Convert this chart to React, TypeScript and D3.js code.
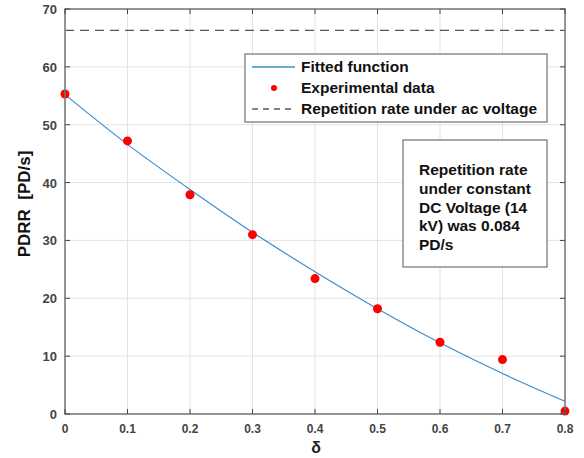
import React from "react";
import * as d3 from "d3";

const deltaValues = [0, 0.1, 0.2, 0.3, 0.4, 0.5, 0.6, 0.7, 0.8];
const experimentalPDRR = [55.3, 47.2, 37.9, 31.0, 23.4, 18.2, 12.4, 9.4, 0.5];
const fittedPDRR = [55.2, 46.6, 38.8, 31.4, 24.6, 18.2, 12.3, 7.0, 2.2];
const acRepetitionRate = 66.3;
const xTicks = [0, 0.1, 0.2, 0.3, 0.4, 0.5, 0.6, 0.7, 0.8];
const yTicks = [0, 10, 20, 30, 40, 50, 60, 70];
const legendLabels = ["Fitted function", "Experimental data", "Repetition rate under ac voltage"];
const noteLines = ["Repetition rate", "under constant", "DC Voltage (14", "kV) was 0.084", "PD/s"];

export default function App() {
  const W = 584, H = 458;
  const x = d3.scaleLinear().domain([0, 0.8]).range([65, 565]);
  const y = d3.scaleLinear().domain([0, 70]).range([414, 9]);
  const line = d3
    .line<number>()
    .x((_, i) => x(deltaValues[i]))
    .y((d) => y(d))
    .curve(d3.curveMonotoneX);
  const font = "Arial, 'Liberation Sans', sans-serif";
  const tickColor = "#444";
  const [x0, x1] = x.range();
  const [y0, y1] = y.range();
  return (
    <svg width={W} height={H} style={{ position: "absolute", left: 0, top: 0, background: "#fff" }}>
      <rect x={0} y={0} width={W} height={H} fill="#fff" />
      {/* grid */}
      {xTicks.map((t) => (
        <line key={"gx" + t} x1={x(t)} x2={x(t)} y1={y1} y2={y0} stroke="#e3e3e3" strokeWidth={1} />
      ))}
      {yTicks.map((t) => (
        <line key={"gy" + t} x1={x0} x2={x1} y1={y(t)} y2={y(t)} stroke="#e3e3e3" strokeWidth={1} />
      ))}
      {/* ac line */}
      <line x1={x0} x2={x1} y1={y(acRepetitionRate)} y2={y(acRepetitionRate)} stroke="#555" strokeWidth={1.3} strokeDasharray="9,6" />
      {/* fitted */}
      <path d={line(fittedPDRR) || ""} fill="none" stroke="#3a8fd0" strokeWidth={1.2} />
      {/* points */}
      {experimentalPDRR.map((v, i) => (
        <circle key={"p" + i} cx={x(deltaValues[i])} cy={y(v)} r={4.5} fill="#ff0000" />
      ))}
      {/* frame */}
      <rect x={x0} y={y1} width={x1 - x0} height={y0 - y1} fill="none" stroke="#777" strokeWidth={1.5} />
      {/* ticks */}
      {xTicks.map((t) => (
        <g key={"tx" + t}>
          <line x1={x(t)} x2={x(t)} y1={y0} y2={y0 - 5} stroke="#444" />
          <line x1={x(t)} x2={x(t)} y1={y1} y2={y1 + 5} stroke="#444" />
          <text x={x(t)} y={y0 + 19} textAnchor="middle" fontFamily={font} fontWeight="bold" fontSize={12} fill={tickColor}>
            {t === 0 ? "0" : String(t)}
          </text>
        </g>
      ))}
      {yTicks.map((t) => (
        <g key={"ty" + t}>
          <line x1={x0} x2={x0 + 5} y1={y(t)} y2={y(t)} stroke="#444" />
          <line x1={x1} x2={x1 - 5} y1={y(t)} y2={y(t)} stroke="#444" />
          <text x={x0 - 8} y={y(t) + 5} textAnchor="end" fontFamily={font} fontWeight="bold" fontSize={13} fill={tickColor}>
            {t}
          </text>
        </g>
      ))}
      {/* axis labels */}
      <text x={316} y={453} textAnchor="middle" fontFamily={font} fontWeight="bold" fontSize={16} fill="#222">δ</text>
      <text transform={`translate(30,204) rotate(-90)`} textAnchor="middle" fontFamily={font} fontWeight="bold" fontSize={17} fill="#111">
        PDRR&#160;&#160;[PD/s]
      </text>
      {/* legend */}
      <rect x={245} y={54} width={302} height={68} fill="#fff" stroke="#555" strokeWidth={1} />
      <line x1={252} x2={295} y1={67} y2={67} stroke="#3a8fd0" strokeWidth={1.3} />
      <circle cx={274} cy={88} r={3} fill="#ff0000" />
      <line x1={252} x2={295} y1={109} y2={109} stroke="#555" strokeWidth={1.3} strokeDasharray="6,5" />
      {legendLabels.map((s, i) => (
        <text key={s} x={301} y={72 + i * 21} fontFamily={font} fontWeight="bold" fontSize={15.5} fill="#111">
          {s}
        </text>
      ))}
      {/* note */}
      <rect x={403} y={140} width={144} height={127} fill="#fff" stroke="#555" strokeWidth={1} />
      {noteLines.map((s, i) => (
        <text key={s} x={419} y={175 + i * 18.8} fontFamily={font} fontWeight="bold" fontSize={15.5} fill="#111">
          {s}
        </text>
      ))}
    </svg>
  );
}
